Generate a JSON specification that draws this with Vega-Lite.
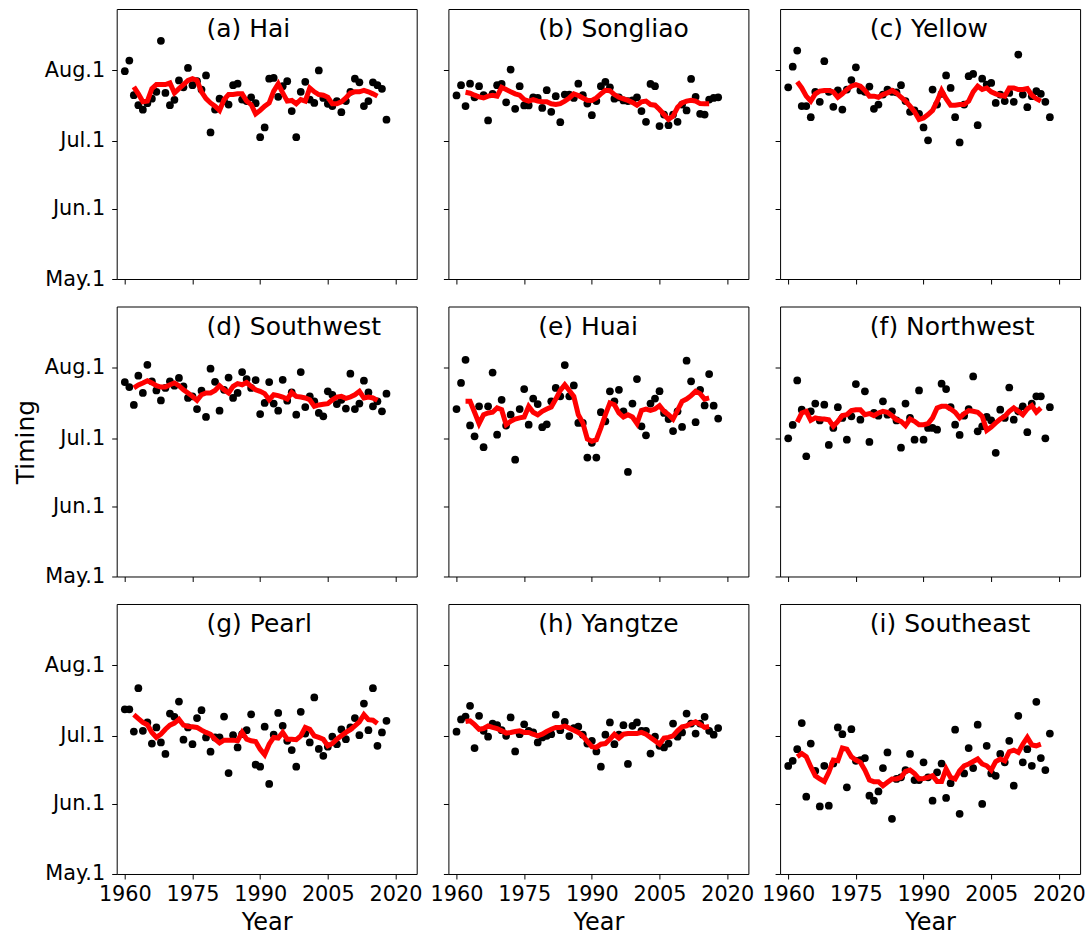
{
"$schema": "https://vega.github.io/schema/vega-lite/v6.json",
"background": "white",
"padding": {"left": 12.7, "top": 8, "right": 5, "bottom": 5},
"config": {
 "view": {"stroke": "black", "strokeWidth": 1},
 "axis": {"domain": false, "grid": false, "ticks": true, "tickColor": "black", "tickSize": 5, "tickWidth": 1, "labelFont": "DejaVu Sans", "labelFontSize": 20.8, "labelColor": "black", "labelFlush": false, "titleFont": "DejaVu Sans", "titleFontWeight": "normal", "titleColor": "black"},
 "axisX": {"labelPadding": 6, "titleFontSize": 24, "titlePadding": 6},
 "axisY": {"labelPadding": 7, "titleFontSize": 25, "titlePadding": 6}
},
"datasets": {"d": [
{"b":"a","yr":1960,"t":212.6},{"b":"a","yr":1961,"t":217.3},{"b":"a","yr":1962,"t":202.0,"m":205.7},{"b":"a","yr":1963,"t":197.6,"m":202.6},{"b":"a","yr":1964,"t":195.6,"m":199.1},{"b":"a","yr":1965,"t":198.5,"m":199.4},{"b":"a","yr":1966,"t":200.5,"m":204.9},{"b":"a","yr":1967,"t":203.5,"m":206.7},{"b":"a","yr":1968,"t":226.0,"m":206.7},{"b":"a","yr":1969,"t":203.0,"m":206.7},
{"b":"a","yr":1970,"t":197.6,"m":207.4},{"b":"a","yr":1971,"t":200.0,"m":203.0},{"b":"a","yr":1972,"t":208.5,"m":204.9},{"b":"a","yr":1973,"t":205.5,"m":206.7},{"b":"a","yr":1974,"t":214.0,"m":208.5},{"b":"a","yr":1975,"t":206.4,"m":209.3},{"b":"a","yr":1976,"t":208.2,"m":208.5},{"b":"a","yr":1977,"t":204.5,"m":203.5},{"b":"a","yr":1978,"t":210.7,"m":200.5},{"b":"a","yr":1979,"t":185.6,"m":198.6},
{"b":"a","yr":1980,"t":195.7,"m":197.2},{"b":"a","yr":1981,"t":200.5,"m":195.3},{"b":"a","yr":1982,"t":199.4,"m":200.1},{"b":"a","yr":1983,"t":197.9,"m":202.3},{"b":"a","yr":1984,"t":206.4,"m":202.3},{"b":"a","yr":1985,"t":207.1,"m":202.6},{"b":"a","yr":1986,"t":200.1,"m":202.6},{"b":"a","yr":1987,"t":199.4,"m":199.4},{"b":"a","yr":1988,"t":201.1,"m":197.9},{"b":"a","yr":1989,"t":198.5,"m":193.8},
{"b":"a","yr":1990,"t":183.5,"m":195.3},{"b":"a","yr":1991,"t":187.8,"m":197.2},{"b":"a","yr":1992,"t":209.3,"m":198.6},{"b":"a","yr":1993,"t":209.6,"m":203.8},{"b":"a","yr":1994,"t":201.3,"m":207.0},{"b":"a","yr":1995,"t":206.0,"m":203.0},{"b":"a","yr":1996,"t":208.2,"m":199.4},{"b":"a","yr":1997,"t":195.0,"m":199.7},{"b":"a","yr":1998,"t":183.5,"m":198.2},{"b":"a","yr":1999,"t":203.5,"m":200.1},
{"b":"a","yr":2000,"t":207.9,"m":199.4},{"b":"a","yr":2001,"t":200.1,"m":205.2},{"b":"a","yr":2002,"t":198.6,"m":203.5},{"b":"a","yr":2003,"t":212.9,"m":202.3},{"b":"a","yr":2004,"t":200.8,"m":202.0},{"b":"a","yr":2005,"t":198.2,"m":201.1},{"b":"a","yr":2006,"t":197.2,"m":198.2},{"b":"a","yr":2007,"t":199.4,"m":198.2},{"b":"a","yr":2008,"t":194.5,"m":199.1},{"b":"a","yr":2009,"t":199.4,"m":200.8},
{"b":"a","yr":2010,"t":203.5,"m":203.0},{"b":"a","yr":2011,"t":209.3,"m":203.5},{"b":"a","yr":2012,"t":207.7,"m":203.5},{"b":"a","yr":2013,"t":197.2,"m":204.1},{"b":"a","yr":2014,"t":199.4,"m":203.5},{"b":"a","yr":2015,"t":207.7,"m":202.6},{"b":"a","yr":2016,"t":206.4,"m":201.6},{"b":"a","yr":2017,"t":204.8},{"b":"a","yr":2018,"t":191.2},

{"b":"b","yr":1960,"t":201.9},{"b":"b","yr":1961,"t":206.4},{"b":"b","yr":1962,"t":197.2,"m":203.3},{"b":"b","yr":1963,"t":207.1,"m":202.9},{"b":"b","yr":1964,"t":201.1,"m":202.0},{"b":"b","yr":1965,"t":206.0,"m":201.3},{"b":"b","yr":1966,"t":202.0,"m":200.8},{"b":"b","yr":1967,"t":190.9,"m":201.6},{"b":"b","yr":1968,"t":202.6,"m":202.0},{"b":"b","yr":1969,"t":206.4,"m":201.6},
{"b":"b","yr":1970,"t":207.0,"m":205.5},{"b":"b","yr":1971,"t":198.9,"m":204.5},{"b":"b","yr":1972,"t":213.3,"m":203.5},{"b":"b","yr":1973,"t":196.0,"m":202.6},{"b":"b","yr":1974,"t":206.0,"m":202.0},{"b":"b","yr":1975,"t":197.5,"m":200.1},{"b":"b","yr":1976,"t":197.5,"m":199.4},{"b":"b","yr":1977,"t":201.1,"m":200.1},{"b":"b","yr":1978,"t":200.8,"m":199.4},{"b":"b","yr":1979,"t":196.4,"m":199.1},
{"b":"b","yr":1980,"t":204.2,"m":199.1},{"b":"b","yr":1981,"t":194.7,"m":198.2},{"b":"b","yr":1982,"t":201.6,"m":197.9},{"b":"b","yr":1983,"t":190.1,"m":198.3},{"b":"b","yr":1984,"t":202.3,"m":199.4},{"b":"b","yr":1985,"t":202.3,"m":200.8},{"b":"b","yr":1986,"t":200.8,"m":202.6},{"b":"b","yr":1987,"t":207.1,"m":201.9},{"b":"b","yr":1988,"t":202.0,"m":200.8},{"b":"b","yr":1989,"t":198.3,"m":199.8},
{"b":"b","yr":1990,"t":193.2,"m":199.7},{"b":"b","yr":1991,"t":199.4,"m":200.8},{"b":"b","yr":1992,"t":206.0,"m":202.6},{"b":"b","yr":1993,"t":207.9,"m":204.2},{"b":"b","yr":1994,"t":205.5,"m":204.0},{"b":"b","yr":1995,"t":200.5,"m":202.3},{"b":"b","yr":1996,"t":201.1,"m":201.1},{"b":"b","yr":1997,"t":199.7,"m":200.4},{"b":"b","yr":1998,"t":199.4,"m":199.7},{"b":"b","yr":1999,"t":199.7,"m":198.8},
{"b":"b","yr":2000,"t":201.1,"m":197.6},{"b":"b","yr":2001,"t":195.0,"m":199.1},{"b":"b","yr":2002,"t":190.3,"m":199.4},{"b":"b","yr":2003,"t":207.0,"m":197.9},{"b":"b","yr":2004,"t":206.0,"m":197.6},{"b":"b","yr":2005,"t":188.4,"m":195.7},{"b":"b","yr":2006,"t":193.5,"m":193.5},{"b":"b","yr":2007,"t":188.8,"m":191.3},{"b":"b","yr":2008,"t":193.5,"m":192.8},{"b":"b","yr":2009,"t":190.3,"m":196.7},
{"b":"b","yr":2010,"t":197.9,"m":198.6},{"b":"b","yr":2011,"t":195.3,"m":199.4},{"b":"b","yr":2012,"t":209.2,"m":199.8},{"b":"b","yr":2013,"t":201.3,"m":199.4},{"b":"b","yr":2014,"t":193.8,"m":198.3},{"b":"b","yr":2015,"t":193.5,"m":198.2},{"b":"b","yr":2016,"t":200.1,"m":198.2},{"b":"b","yr":2017,"t":200.8},{"b":"b","yr":2018,"t":201.1},

{"b":"c","yr":1960,"t":205.5},{"b":"c","yr":1961,"t":214.6},{"b":"c","yr":1962,"t":221.7,"m":207.9},{"b":"c","yr":1963,"t":197.2,"m":205.2},{"b":"c","yr":1964,"t":197.2,"m":201.6},{"b":"c","yr":1965,"t":192.3,"m":199.4},{"b":"c","yr":1966,"t":203.5,"m":202.6},{"b":"c","yr":1967,"t":199.1,"m":203.8},{"b":"c","yr":1968,"t":217.0,"m":204.1},{"b":"c","yr":1969,"t":203.5,"m":204.1},
{"b":"c","yr":1970,"t":196.9,"m":203.5},{"b":"c","yr":1971,"t":204.1,"m":201.1},{"b":"c","yr":1972,"t":195.7,"m":202.6},{"b":"c","yr":1973,"t":204.5,"m":204.5},{"b":"c","yr":1974,"t":208.7,"m":206.0},{"b":"c","yr":1975,"t":214.3,"m":206.7},{"b":"c","yr":1976,"t":204.1,"m":206.0},{"b":"c","yr":1977,"t":203.5,"m":204.1},{"b":"c","yr":1978,"t":205.8,"m":201.6},{"b":"c","yr":1979,"t":196.0,"m":201.6},
{"b":"c","yr":1980,"t":197.9,"m":201.1},{"b":"c","yr":1981,"t":202.3,"m":202.3},{"b":"c","yr":1982,"t":204.5,"m":203.0},{"b":"c","yr":1983,"t":203.5,"m":204.1},{"b":"c","yr":1984,"t":203.3,"m":203.0},{"b":"c","yr":1985,"t":206.4,"m":201.1},{"b":"c","yr":1986,"t":199.4,"m":199.4},{"b":"c","yr":1987,"t":194.7,"m":197.2},{"b":"c","yr":1988,"t":195.3,"m":194.7},{"b":"c","yr":1989,"t":193.8,"m":191.3},
{"b":"c","yr":1990,"t":187.8,"m":192.0},{"b":"c","yr":1991,"t":182.1,"m":193.5},{"b":"c","yr":1992,"t":204.5,"m":195.3},{"b":"c","yr":1993,"t":197.9,"m":199.4},{"b":"c","yr":1994,"t":202.6,"m":204.1},{"b":"c","yr":1995,"t":210.7,"m":200.5},{"b":"c","yr":1996,"t":205.2,"m":197.6},{"b":"c","yr":1997,"t":192.3,"m":197.6},{"b":"c","yr":1998,"t":181.2,"m":197.9},{"b":"c","yr":1999,"t":197.9,"m":197.9},
{"b":"c","yr":2000,"t":210.4,"m":199.4},{"b":"c","yr":2001,"t":211.4,"m":203.5},{"b":"c","yr":2002,"t":188.8,"m":206.0},{"b":"c","yr":2003,"t":209.3,"m":204.5},{"b":"c","yr":2004,"t":206.7,"m":205.2},{"b":"c","yr":2005,"t":207.4,"m":203.5},{"b":"c","yr":2006,"t":198.6,"m":202.6},{"b":"c","yr":2007,"t":202.3,"m":202.0},{"b":"c","yr":2008,"t":199.4,"m":201.6},{"b":"c","yr":2009,"t":203.0,"m":205.2},
{"b":"c","yr":2010,"t":199.1,"m":205.2},{"b":"c","yr":2011,"t":219.9,"m":204.5},{"b":"c","yr":2012,"t":202.3,"m":204.5},{"b":"c","yr":2013,"t":196.7,"m":204.9},{"b":"c","yr":2014,"t":201.6,"m":202.0},{"b":"c","yr":2015,"t":203.8,"m":200.5},{"b":"c","yr":2016,"t":202.6,"m":199.4},{"b":"c","yr":2017,"t":199.1},{"b":"c","yr":2018,"t":192.3},

{"b":"d","yr":1960,"t":206.7},{"b":"d","yr":1961,"t":204.5},{"b":"d","yr":1962,"t":196.6,"m":204.1},{"b":"d","yr":1963,"t":209.5,"m":205.4},{"b":"d","yr":1964,"t":201.9,"m":206.3},{"b":"d","yr":1965,"t":214.3,"m":207.3},{"b":"d","yr":1966,"t":207.0,"m":206.3},{"b":"d","yr":1967,"t":203.0,"m":205.1},{"b":"d","yr":1968,"t":198.6,"m":204.5},{"b":"d","yr":1969,"t":204.1,"m":204.5},
{"b":"d","yr":1970,"t":207.0,"m":205.5},{"b":"d","yr":1971,"t":205.1,"m":206.3},{"b":"d","yr":1972,"t":208.5,"m":205.1},{"b":"d","yr":1973,"t":204.8,"m":203.3},{"b":"d","yr":1974,"t":199.7,"m":201.9},{"b":"d","yr":1975,"t":200.4,"m":200.4},{"b":"d","yr":1976,"t":194.8,"m":198.6},{"b":"d","yr":1977,"t":202.9,"m":201.1},{"b":"d","yr":1978,"t":191.3,"m":201.9},{"b":"d","yr":1979,"t":212.6,"m":201.9},
{"b":"d","yr":1980,"t":206.8,"m":203.0},{"b":"d","yr":1981,"t":194.1,"m":205.1},{"b":"d","yr":1982,"t":203.3,"m":203.3},{"b":"d","yr":1983,"t":208.7,"m":201.9},{"b":"d","yr":1984,"t":199.7,"m":204.8},{"b":"d","yr":1985,"t":201.9,"m":206.0},{"b":"d","yr":1986,"t":211.1,"m":205.5},{"b":"d","yr":1987,"t":208.0,"m":206.5},{"b":"d","yr":1988,"t":204.1,"m":204.8},{"b":"d","yr":1989,"t":207.6,"m":203.3},
{"b":"d","yr":1990,"t":192.6,"m":202.6},{"b":"d","yr":1991,"t":197.5,"m":201.6},{"b":"d","yr":1992,"t":206.7,"m":198.9},{"b":"d","yr":1993,"t":197.2,"m":201.1},{"b":"d","yr":1994,"t":194.1,"m":200.7},{"b":"d","yr":1995,"t":207.7,"m":200.1},{"b":"d","yr":1996,"t":198.5,"m":199.2},{"b":"d","yr":1997,"t":202.1,"m":202.1},{"b":"d","yr":1998,"t":192.3,"m":200.4},{"b":"d","yr":1999,"t":211.1,"m":200.1},
{"b":"d","yr":2000,"t":195.7,"m":199.7},{"b":"d","yr":2001,"t":200.4,"m":198.9},{"b":"d","yr":2002,"t":198.2,"m":196.0},{"b":"d","yr":2003,"t":193.1,"m":196.6},{"b":"d","yr":2004,"t":191.6,"m":196.9},{"b":"d","yr":2005,"t":202.6,"m":197.2},{"b":"d","yr":2006,"t":201.1,"m":198.9},{"b":"d","yr":2007,"t":197.0,"m":200.1},{"b":"d","yr":2008,"t":198.9,"m":200.4},{"b":"d","yr":2009,"t":195.0,"m":199.5},
{"b":"d","yr":2010,"t":210.4,"m":200.1},{"b":"d","yr":2011,"t":194.8,"m":201.1},{"b":"d","yr":2012,"t":197.2,"m":202.6},{"b":"d","yr":2013,"t":207.3,"m":199.7},{"b":"d","yr":2014,"t":202.1,"m":200.1},{"b":"d","yr":2015,"t":196.0,"m":199.7},{"b":"d","yr":2016,"t":198.2,"m":198.6},{"b":"d","yr":2017,"t":193.8},{"b":"d","yr":2018,"t":201.6},

{"b":"e","yr":1960,"t":194.8},{"b":"e","yr":1961,"t":206.3},{"b":"e","yr":1962,"t":216.5,"m":198.2},{"b":"e","yr":1963,"t":187.6,"m":198.2},{"b":"e","yr":1964,"t":182.8,"m":193.4},{"b":"e","yr":1965,"t":196.0,"m":188.4},{"b":"e","yr":1966,"t":178.0,"m":192.3},{"b":"e","yr":1967,"t":196.0,"m":193.1},{"b":"e","yr":1968,"t":210.9,"m":193.4},{"b":"e","yr":1969,"t":183.5,"m":195.3},
{"b":"e","yr":1970,"t":198.9,"m":194.5},{"b":"e","yr":1971,"t":187.5,"m":187.9},{"b":"e","yr":1972,"t":192.3,"m":189.4},{"b":"e","yr":1973,"t":172.5,"m":190.4},{"b":"e","yr":1974,"t":194.8,"m":190.9},{"b":"e","yr":1975,"t":203.6,"m":191.3},{"b":"e","yr":1976,"t":187.9,"m":196.0},{"b":"e","yr":1977,"t":199.4,"m":193.4},{"b":"e","yr":1978,"t":197.0,"m":192.3},{"b":"e","yr":1979,"t":186.8,"m":193.8},
{"b":"e","yr":1980,"t":188.1,"m":194.8},{"b":"e","yr":1981,"t":198.2,"m":195.7},{"b":"e","yr":1982,"t":204.1,"m":199.2},{"b":"e","yr":1983,"t":200.4,"m":203.0},{"b":"e","yr":1984,"t":214.2,"m":205.5},{"b":"e","yr":1985,"t":200.4,"m":203.0},{"b":"e","yr":1986,"t":205.2,"m":200.4},{"b":"e","yr":1987,"t":188.7,"m":192.3},{"b":"e","yr":1988,"t":188.7,"m":188.7},{"b":"e","yr":1989,"t":173.4,"m":181.6},
{"b":"e","yr":1990,"t":179.9,"m":180.6},{"b":"e","yr":1991,"t":173.4,"m":181.3},{"b":"e","yr":1992,"t":193.4,"m":186.5},{"b":"e","yr":1993,"t":189.4,"m":192.3},{"b":"e","yr":1994,"t":202.6,"m":197.5},{"b":"e","yr":1995,"t":198.2,"m":196.7},{"b":"e","yr":1996,"t":203.3,"m":193.1},{"b":"e","yr":1997,"t":193.8,"m":191.3},{"b":"e","yr":1998,"t":167.1,"m":192.3},{"b":"e","yr":1999,"t":197.2,"m":191.3},
{"b":"e","yr":2000,"t":208.0,"m":188.4},{"b":"e","yr":2001,"t":187.2,"m":194.2},{"b":"e","yr":2002,"t":183.2,"m":194.8},{"b":"e","yr":2003,"t":197.2,"m":194.2},{"b":"e","yr":2004,"t":199.4,"m":194.8},{"b":"e","yr":2005,"t":202.7,"m":196.3},{"b":"e","yr":2006,"t":193.1,"m":193.8},{"b":"e","yr":2007,"t":190.4,"m":192.3},{"b":"e","yr":2008,"t":185.1,"m":190.4},{"b":"e","yr":2009,"t":193.8,"m":194.2},
{"b":"e","yr":2010,"t":186.9,"m":198.2},{"b":"e","yr":2011,"t":216.1,"m":199.2},{"b":"e","yr":2012,"t":207.0,"m":200.7},{"b":"e","yr":2013,"t":189.0,"m":202.6},{"b":"e","yr":2014,"t":203.3,"m":201.6},{"b":"e","yr":2015,"t":196.4,"m":199.2},{"b":"e","yr":2016,"t":210.2,"m":199.7},{"b":"e","yr":2017,"t":196.3},{"b":"e","yr":2018,"t":190.6},

{"b":"f","yr":1960,"t":181.9},{"b":"f","yr":1961,"t":187.8},{"b":"f","yr":1962,"t":207.4,"m":189.0},{"b":"f","yr":1963,"t":194.5,"m":193.1},{"b":"f","yr":1964,"t":174.0,"m":193.8},{"b":"f","yr":1965,"t":193.8,"m":189.8},{"b":"f","yr":1966,"t":197.2,"m":190.9},{"b":"f","yr":1967,"t":189.8,"m":190.4},{"b":"f","yr":1968,"t":196.7,"m":190.4},{"b":"f","yr":1969,"t":179.0,"m":190.1},
{"b":"f","yr":1970,"t":186.5,"m":187.2},{"b":"f","yr":1971,"t":195.6,"m":189.4},{"b":"f","yr":1972,"t":190.9,"m":191.9},{"b":"f","yr":1973,"t":181.3,"m":192.3},{"b":"f","yr":1974,"t":191.6,"m":194.1},{"b":"f","yr":1975,"t":205.8,"m":194.5},{"b":"f","yr":1976,"t":190.1,"m":194.5},{"b":"f","yr":1977,"t":202.6,"m":192.3},{"b":"f","yr":1978,"t":180.3,"m":192.8},{"b":"f","yr":1979,"t":193.1,"m":191.9},
{"b":"f","yr":1980,"t":191.9,"m":193.1},{"b":"f","yr":1981,"t":198.2,"m":193.8},{"b":"f","yr":1982,"t":192.3,"m":193.4},{"b":"f","yr":1983,"t":193.8,"m":191.9},{"b":"f","yr":1984,"t":189.8,"m":190.1},{"b":"f","yr":1985,"t":177.8,"m":189.4},{"b":"f","yr":1986,"t":197.2,"m":187.5},{"b":"f","yr":1987,"t":190.9,"m":190.4},{"b":"f","yr":1988,"t":181.3,"m":189.4},{"b":"f","yr":1989,"t":203.0,"m":187.9},
{"b":"f","yr":1990,"t":181.3,"m":187.9},{"b":"f","yr":1991,"t":186.5,"m":188.4},{"b":"f","yr":1992,"t":186.5,"m":190.9},{"b":"f","yr":1993,"t":185.7,"m":195.3},{"b":"f","yr":1994,"t":206.0,"m":196.0},{"b":"f","yr":1995,"t":203.6,"m":196.0},{"b":"f","yr":1996,"t":195.7,"m":194.8},{"b":"f","yr":1997,"t":187.9,"m":193.4},{"b":"f","yr":1998,"t":183.4,"m":190.9},{"b":"f","yr":1999,"t":191.9,"m":192.8},
{"b":"f","yr":2000,"t":194.8,"m":194.1},{"b":"f","yr":2001,"t":209.2,"m":193.8},{"b":"f","yr":2002,"t":185.0,"m":193.4},{"b":"f","yr":2003,"t":187.2,"m":191.6},{"b":"f","yr":2004,"t":191.3,"m":185.4},{"b":"f","yr":2005,"t":189.8,"m":186.9},{"b":"f","yr":2006,"t":175.5,"m":188.7},{"b":"f","yr":2007,"t":194.5,"m":190.4},{"b":"f","yr":2008,"t":190.9,"m":191.6},{"b":"f","yr":2009,"t":204.3,"m":193.8},
{"b":"f","yr":2010,"t":190.1,"m":195.3},{"b":"f","yr":2011,"t":193.8,"m":193.8},{"b":"f","yr":2012,"t":196.0,"m":192.3},{"b":"f","yr":2013,"t":184.6,"m":194.8},{"b":"f","yr":2014,"t":197.2,"m":196.3},{"b":"f","yr":2015,"t":200.4,"m":193.4},{"b":"f","yr":2016,"t":200.4,"m":195.3},{"b":"f","yr":2017,"t":181.9},{"b":"f","yr":2018,"t":195.6},

{"b":"g","yr":1960,"t":193.6},{"b":"g","yr":1961,"t":193.6},{"b":"g","yr":1962,"t":183.8,"m":191.2},{"b":"g","yr":1963,"t":202.9,"m":189.5},{"b":"g","yr":1964,"t":184.1,"m":187.8},{"b":"g","yr":1965,"t":187.8,"m":186.8},{"b":"g","yr":1966,"t":178.5,"m":183.4},{"b":"g","yr":1967,"t":185.6,"m":181.2},{"b":"g","yr":1968,"t":179.0,"m":182.6},{"b":"g","yr":1969,"t":173.9,"m":184.8},
{"b":"g","yr":1970,"t":191.7,"m":186.6},{"b":"g","yr":1971,"t":190.3,"m":187.5},{"b":"g","yr":1972,"t":197.0,"m":189.2},{"b":"g","yr":1973,"t":180.2,"m":186.6},{"b":"g","yr":1974,"t":185.6,"m":186.0},{"b":"g","yr":1975,"t":178.2,"m":185.9},{"b":"g","yr":1976,"t":189.7,"m":185.6},{"b":"g","yr":1977,"t":193.2,"m":184.4},{"b":"g","yr":1978,"t":181.2,"m":183.4},{"b":"g","yr":1979,"t":174.9,"m":182.6},
{"b":"g","yr":1980,"t":181.2,"m":180.4},{"b":"g","yr":1981,"t":181.2,"m":178.8},{"b":"g","yr":1982,"t":190.4,"m":180.0},{"b":"g","yr":1983,"t":165.5,"m":180.0},{"b":"g","yr":1984,"t":182.2,"m":180.0},{"b":"g","yr":1985,"t":176.8,"m":179.7},{"b":"g","yr":1986,"t":182.6,"m":183.4},{"b":"g","yr":1987,"t":184.4,"m":180.4},{"b":"g","yr":1988,"t":191.4,"m":179.7},{"b":"g","yr":1989,"t":169.2,"m":179.4},
{"b":"g","yr":1990,"t":168.3,"m":176.0},{"b":"g","yr":1991,"t":185.9,"m":173.6},{"b":"g","yr":1992,"t":160.7,"m":178.2},{"b":"g","yr":1993,"t":182.4,"m":181.2},{"b":"g","yr":1994,"t":192.0,"m":180.9},{"b":"g","yr":1995,"t":186.3,"m":183.4},{"b":"g","yr":1996,"t":179.7,"m":180.4},{"b":"g","yr":1997,"t":175.6,"m":180.4},{"b":"g","yr":1998,"t":168.3,"m":180.2},{"b":"g","yr":1999,"t":192.5,"m":181.9},
{"b":"g","yr":2000,"t":182.9,"m":185.6},{"b":"g","yr":2001,"t":179.0,"m":184.8},{"b":"g","yr":2002,"t":198.8,"m":181.9},{"b":"g","yr":2003,"t":176.1,"m":181.2},{"b":"g","yr":2004,"t":173.1,"m":180.4},{"b":"g","yr":2005,"t":177.1,"m":177.5},{"b":"g","yr":2006,"t":181.5,"m":178.5},{"b":"g","yr":2007,"t":178.2,"m":180.4},{"b":"g","yr":2008,"t":184.7,"m":181.9},{"b":"g","yr":2009,"t":180.4,"m":183.4},
{"b":"g","yr":2010,"t":185.6,"m":184.6},{"b":"g","yr":2011,"t":189.7,"m":186.3},{"b":"g","yr":2012,"t":182.2,"m":188.1},{"b":"g","yr":2013,"t":196.1,"m":191.2},{"b":"g","yr":2014,"t":184.4,"m":189.0},{"b":"g","yr":2015,"t":202.9,"m":188.8},{"b":"g","yr":2016,"t":177.5,"m":187.3},{"b":"g","yr":2017,"t":183.4},{"b":"g","yr":2018,"t":188.5},

{"b":"h","yr":1960,"t":183.7},{"b":"h","yr":1961,"t":189.1},{"b":"h","yr":1962,"t":190.4,"m":188.2},{"b":"h","yr":1963,"t":195.1,"m":188.5},{"b":"h","yr":1964,"t":176.5,"m":186.8},{"b":"h","yr":1965,"t":190.7,"m":184.8},{"b":"h","yr":1966,"t":184.1,"m":185.1},{"b":"h","yr":1967,"t":181.5,"m":186.2},{"b":"h","yr":1968,"t":187.3,"m":185.6},{"b":"h","yr":1969,"t":186.6,"m":185.1},
{"b":"h","yr":1970,"t":184.4,"m":184.1},{"b":"h","yr":1971,"t":181.9,"m":183.1},{"b":"h","yr":1972,"t":190.0,"m":183.4},{"b":"h","yr":1973,"t":175.0,"m":183.8},{"b":"h","yr":1974,"t":182.6,"m":184.1},{"b":"h","yr":1975,"t":187.0,"m":183.4},{"b":"h","yr":1976,"t":184.1,"m":183.4},{"b":"h","yr":1977,"t":183.4,"m":182.6},{"b":"h","yr":1978,"t":179.0,"m":181.9},{"b":"h","yr":1979,"t":181.2,"m":182.6},
{"b":"h","yr":1980,"t":181.9,"m":183.8},{"b":"h","yr":1981,"t":182.6,"m":184.8},{"b":"h","yr":1982,"t":191.2,"m":185.6},{"b":"h","yr":1983,"t":184.4,"m":185.6},{"b":"h","yr":1984,"t":188.1,"m":186.2},{"b":"h","yr":1985,"t":181.8,"m":185.3},{"b":"h","yr":1986,"t":185.3,"m":184.4},{"b":"h","yr":1987,"t":185.9,"m":183.4},{"b":"h","yr":1988,"t":182.4,"m":181.9},{"b":"h","yr":1989,"t":178.5,"m":179.4},
{"b":"h","yr":1990,"t":179.7,"m":177.1},{"b":"h","yr":1991,"t":175.0,"m":176.8},{"b":"h","yr":1992,"t":168.3,"m":178.2},{"b":"h","yr":1993,"t":182.4,"m":178.5},{"b":"h","yr":1994,"t":187.8,"m":180.4},{"b":"h","yr":1995,"t":178.2,"m":182.6},{"b":"h","yr":1996,"t":182.4,"m":180.9},{"b":"h","yr":1997,"t":186.6,"m":182.6},{"b":"h","yr":1998,"t":169.5,"m":182.9},{"b":"h","yr":1999,"t":186.3,"m":182.9},
{"b":"h","yr":2000,"t":187.8,"m":182.9},{"b":"h","yr":2001,"t":184.1,"m":183.4},{"b":"h","yr":2002,"t":184.1,"m":182.6},{"b":"h","yr":2003,"t":174.1,"m":181.2},{"b":"h","yr":2004,"t":181.5,"m":179.7},{"b":"h","yr":2005,"t":177.5,"m":178.2},{"b":"h","yr":2006,"t":176.8,"m":180.9},{"b":"h","yr":2007,"t":178.5,"m":181.2},{"b":"h","yr":2008,"t":187.3,"m":181.9},{"b":"h","yr":2009,"t":181.5,"m":184.1},
{"b":"h","yr":2010,"t":183.4,"m":185.9},{"b":"h","yr":2011,"t":191.7,"m":186.3},{"b":"h","yr":2012,"t":187.3,"m":187.3},{"b":"h","yr":2013,"t":182.9,"m":188.1},{"b":"h","yr":2014,"t":187.3,"m":187.0},{"b":"h","yr":2015,"t":190.3,"m":185.6},{"b":"h","yr":2016,"t":184.1,"m":186.0},{"b":"h","yr":2017,"t":182.4},{"b":"h","yr":2018,"t":185.3},

{"b":"i","yr":1960,"t":168.6},{"b":"i","yr":1961,"t":170.9},{"b":"i","yr":1962,"t":176.0,"m":172.7},{"b":"i","yr":1963,"t":187.5,"m":174.1},{"b":"i","yr":1964,"t":155.1,"m":172.7},{"b":"i","yr":1965,"t":178.5,"m":168.3},{"b":"i","yr":1966,"t":166.5,"m":164.3},{"b":"i","yr":1967,"t":150.8,"m":162.9},{"b":"i","yr":1968,"t":168.7,"m":161.8},{"b":"i","yr":1969,"t":151.1,"m":165.8},
{"b":"i","yr":1970,"t":169.7,"m":171.2},{"b":"i","yr":1971,"t":185.6,"m":170.9},{"b":"i","yr":1972,"t":182.6,"m":176.5},{"b":"i","yr":1973,"t":159.2,"m":176.0},{"b":"i","yr":1974,"t":184.8,"m":172.7},{"b":"i","yr":1975,"t":170.9,"m":171.2},{"b":"i","yr":1976,"t":171.2,"m":170.2},{"b":"i","yr":1977,"t":172.1,"m":166.8},{"b":"i","yr":1978,"t":155.5,"m":162.4},{"b":"i","yr":1979,"t":153.3,"m":161.7},
{"b":"i","yr":1980,"t":157.4,"m":161.7},{"b":"i","yr":1981,"t":167.7,"m":159.9},{"b":"i","yr":1982,"t":174.6,"m":161.4},{"b":"i","yr":1983,"t":145.3,"m":162.9},{"b":"i","yr":1984,"t":162.9,"m":162.9},{"b":"i","yr":1985,"t":163.6,"m":163.6},{"b":"i","yr":1986,"t":166.8,"m":166.2},{"b":"i","yr":1987,"t":173.9,"m":166.8},{"b":"i","yr":1988,"t":162.4,"m":165.3},{"b":"i","yr":1989,"t":162.4,"m":162.9},
{"b":"i","yr":1990,"t":170.2,"m":163.1},{"b":"i","yr":1991,"t":163.6,"m":163.6},{"b":"i","yr":1992,"t":153.3,"m":164.3},{"b":"i","yr":1993,"t":165.8,"m":161.8},{"b":"i","yr":1994,"t":169.7,"m":161.8},{"b":"i","yr":1995,"t":154.5,"m":167.3},{"b":"i","yr":1996,"t":161.0,"m":163.6},{"b":"i","yr":1997,"t":184.6,"m":162.9},{"b":"i","yr":1998,"t":147.5,"m":166.5},{"b":"i","yr":1999,"t":165.3,"m":168.7},
{"b":"i","yr":2000,"t":176.5,"m":169.5},{"b":"i","yr":2001,"t":167.7,"m":170.6},{"b":"i","yr":2002,"t":186.8,"m":171.7},{"b":"i","yr":2003,"t":151.9,"m":169.5},{"b":"i","yr":2004,"t":177.5,"m":168.7},{"b":"i","yr":2005,"t":165.3,"m":166.8},{"b":"i","yr":2006,"t":164.3,"m":170.6},{"b":"i","yr":2007,"t":173.9,"m":171.7},{"b":"i","yr":2008,"t":170.2,"m":170.9},{"b":"i","yr":2009,"t":179.7,"m":174.9},
{"b":"i","yr":2010,"t":159.9,"m":175.6},{"b":"i","yr":2011,"t":190.7,"m":174.6},{"b":"i","yr":2012,"t":170.2,"m":178.2},{"b":"i","yr":2013,"t":176.0,"m":181.2},{"b":"i","yr":2014,"t":168.7,"m":177.9},{"b":"i","yr":2015,"t":196.9,"m":177.5},{"b":"i","yr":2016,"t":172.1,"m":178.2},{"b":"i","yr":2017,"t":166.8},{"b":"i","yr":2018,"t":182.9}
]},
"data": {"name": "d"},
"columns": 3,
"bounds": "flush",
"spacing": {"row": 27.5, "column": 31.7},
"concat": [
{"width":300,"height":270,"layer":[
 {"transform":[{"filter":"datum.b=='a'"}],"mark":{"type":"circle","color":"black","size":60,"opacity":1},"encoding":{"x":{"field":"yr","type":"quantitative","scale":{"domain":[1958.2,2024.7],"nice":false,"zero":false},"axis":{"values":[1960,1975,1990,2005,2020],"format":"d","labels":false,"title":null}},"y":{"field":"t","type":"quantitative","scale":{"domain":[121,240],"nice":false,"zero":false},"axis":{"values":[121,152,182,213],"labelExpr":"datum.value==121?'May.1':datum.value==152?'Jun.1':datum.value==182?'Jul.1':'Aug.1'","title":null}}}},
 {"transform":[{"filter":"datum.b=='a' && isValid(datum.m)"}],"mark":{"type":"line","color":"red","strokeWidth":5},"encoding":{"x":{"field":"yr","type":"quantitative","scale":{"domain":[1958.2,2024.7],"nice":false,"zero":false},"axis":{"values":[1960,1975,1990,2005,2020],"format":"d","labels":false,"title":null}},"y":{"field":"m","type":"quantitative","scale":{"domain":[121,240],"nice":false,"zero":false},"axis":{"values":[121,152,182,213],"labelExpr":"datum.value==121?'May.1':datum.value==152?'Jun.1':datum.value==182?'Jul.1':'Aug.1'","title":null}}}},
 {"data":{"values":[{"lab":"(a) Hai"}]},"mark":{"type":"text","align":"left","baseline":"alphabetic","fontSize":25,"font":"DejaVu Sans","color":"black"},"encoding":{"x":{"datum":1978.1},"y":{"datum":227.5},"text":{"field":"lab"}}}
]},
{"width":300,"height":270,"layer":[
 {"transform":[{"filter":"datum.b=='b'"}],"mark":{"type":"circle","color":"black","size":60,"opacity":1},"encoding":{"x":{"field":"yr","type":"quantitative","scale":{"domain":[1958.2,2024.7],"nice":false,"zero":false},"axis":{"values":[1960,1975,1990,2005,2020],"format":"d","labels":false,"title":null}},"y":{"field":"t","type":"quantitative","scale":{"domain":[121,240],"nice":false,"zero":false},"axis":{"values":[121,152,182,213],"labels":false,"title":null}}}},
 {"transform":[{"filter":"datum.b=='b' && isValid(datum.m)"}],"mark":{"type":"line","color":"red","strokeWidth":5},"encoding":{"x":{"field":"yr","type":"quantitative","scale":{"domain":[1958.2,2024.7],"nice":false,"zero":false},"axis":{"values":[1960,1975,1990,2005,2020],"format":"d","labels":false,"title":null}},"y":{"field":"m","type":"quantitative","scale":{"domain":[121,240],"nice":false,"zero":false},"axis":{"values":[121,152,182,213],"labels":false,"title":null}}}},
 {"data":{"values":[{"lab":"(b) Songliao"}]},"mark":{"type":"text","align":"left","baseline":"alphabetic","fontSize":25,"font":"DejaVu Sans","color":"black"},"encoding":{"x":{"datum":1978.1},"y":{"datum":227.5},"text":{"field":"lab"}}}
]},
{"width":300,"height":270,"layer":[
 {"transform":[{"filter":"datum.b=='c'"}],"mark":{"type":"circle","color":"black","size":60,"opacity":1},"encoding":{"x":{"field":"yr","type":"quantitative","scale":{"domain":[1958.2,2024.7],"nice":false,"zero":false},"axis":{"values":[1960,1975,1990,2005,2020],"format":"d","labels":false,"title":null}},"y":{"field":"t","type":"quantitative","scale":{"domain":[121,240],"nice":false,"zero":false},"axis":{"values":[121,152,182,213],"labels":false,"title":null}}}},
 {"transform":[{"filter":"datum.b=='c' && isValid(datum.m)"}],"mark":{"type":"line","color":"red","strokeWidth":5},"encoding":{"x":{"field":"yr","type":"quantitative","scale":{"domain":[1958.2,2024.7],"nice":false,"zero":false},"axis":{"values":[1960,1975,1990,2005,2020],"format":"d","labels":false,"title":null}},"y":{"field":"m","type":"quantitative","scale":{"domain":[121,240],"nice":false,"zero":false},"axis":{"values":[121,152,182,213],"labels":false,"title":null}}}},
 {"data":{"values":[{"lab":"(c) Yellow"}]},"mark":{"type":"text","align":"left","baseline":"alphabetic","fontSize":25,"font":"DejaVu Sans","color":"black"},"encoding":{"x":{"datum":1978.1},"y":{"datum":227.5},"text":{"field":"lab"}}}
]},
{"width":300,"height":270,"layer":[
 {"transform":[{"filter":"datum.b=='d'"}],"mark":{"type":"circle","color":"black","size":60,"opacity":1},"encoding":{"x":{"field":"yr","type":"quantitative","scale":{"domain":[1958.2,2024.7],"nice":false,"zero":false},"axis":{"values":[1960,1975,1990,2005,2020],"format":"d","labels":false,"title":null}},"y":{"field":"t","type":"quantitative","scale":{"domain":[121,240],"nice":false,"zero":false},"axis":{"values":[121,152,182,213],"labelExpr":"datum.value==121?'May.1':datum.value==152?'Jun.1':datum.value==182?'Jul.1':'Aug.1'","title":"Timing"}}}},
 {"transform":[{"filter":"datum.b=='d' && isValid(datum.m)"}],"mark":{"type":"line","color":"red","strokeWidth":5},"encoding":{"x":{"field":"yr","type":"quantitative","scale":{"domain":[1958.2,2024.7],"nice":false,"zero":false},"axis":{"values":[1960,1975,1990,2005,2020],"format":"d","labels":false,"title":null}},"y":{"field":"m","type":"quantitative","scale":{"domain":[121,240],"nice":false,"zero":false},"axis":{"values":[121,152,182,213],"labelExpr":"datum.value==121?'May.1':datum.value==152?'Jun.1':datum.value==182?'Jul.1':'Aug.1'","title":"Timing"}}}},
 {"data":{"values":[{"lab":"(d) Southwest"}]},"mark":{"type":"text","align":"left","baseline":"alphabetic","fontSize":25,"font":"DejaVu Sans","color":"black"},"encoding":{"x":{"datum":1978.1},"y":{"datum":227.5},"text":{"field":"lab"}}}
]},
{"width":300,"height":270,"layer":[
 {"transform":[{"filter":"datum.b=='e'"}],"mark":{"type":"circle","color":"black","size":60,"opacity":1},"encoding":{"x":{"field":"yr","type":"quantitative","scale":{"domain":[1958.2,2024.7],"nice":false,"zero":false},"axis":{"values":[1960,1975,1990,2005,2020],"format":"d","labels":false,"title":null}},"y":{"field":"t","type":"quantitative","scale":{"domain":[121,240],"nice":false,"zero":false},"axis":{"values":[121,152,182,213],"labels":false,"title":null}}}},
 {"transform":[{"filter":"datum.b=='e' && isValid(datum.m)"}],"mark":{"type":"line","color":"red","strokeWidth":5},"encoding":{"x":{"field":"yr","type":"quantitative","scale":{"domain":[1958.2,2024.7],"nice":false,"zero":false},"axis":{"values":[1960,1975,1990,2005,2020],"format":"d","labels":false,"title":null}},"y":{"field":"m","type":"quantitative","scale":{"domain":[121,240],"nice":false,"zero":false},"axis":{"values":[121,152,182,213],"labels":false,"title":null}}}},
 {"data":{"values":[{"lab":"(e) Huai"}]},"mark":{"type":"text","align":"left","baseline":"alphabetic","fontSize":25,"font":"DejaVu Sans","color":"black"},"encoding":{"x":{"datum":1978.1},"y":{"datum":227.5},"text":{"field":"lab"}}}
]},
{"width":300,"height":270,"layer":[
 {"transform":[{"filter":"datum.b=='f'"}],"mark":{"type":"circle","color":"black","size":60,"opacity":1},"encoding":{"x":{"field":"yr","type":"quantitative","scale":{"domain":[1958.2,2024.7],"nice":false,"zero":false},"axis":{"values":[1960,1975,1990,2005,2020],"format":"d","labels":false,"title":null}},"y":{"field":"t","type":"quantitative","scale":{"domain":[121,240],"nice":false,"zero":false},"axis":{"values":[121,152,182,213],"labels":false,"title":null}}}},
 {"transform":[{"filter":"datum.b=='f' && isValid(datum.m)"}],"mark":{"type":"line","color":"red","strokeWidth":5},"encoding":{"x":{"field":"yr","type":"quantitative","scale":{"domain":[1958.2,2024.7],"nice":false,"zero":false},"axis":{"values":[1960,1975,1990,2005,2020],"format":"d","labels":false,"title":null}},"y":{"field":"m","type":"quantitative","scale":{"domain":[121,240],"nice":false,"zero":false},"axis":{"values":[121,152,182,213],"labels":false,"title":null}}}},
 {"data":{"values":[{"lab":"(f) Northwest"}]},"mark":{"type":"text","align":"left","baseline":"alphabetic","fontSize":25,"font":"DejaVu Sans","color":"black"},"encoding":{"x":{"datum":1978.1},"y":{"datum":227.5},"text":{"field":"lab"}}}
]},
{"width":300,"height":270,"layer":[
 {"transform":[{"filter":"datum.b=='g'"}],"mark":{"type":"circle","color":"black","size":60,"opacity":1},"encoding":{"x":{"field":"yr","type":"quantitative","scale":{"domain":[1958.2,2024.7],"nice":false,"zero":false},"axis":{"values":[1960,1975,1990,2005,2020],"format":"d","title":"Year"}},"y":{"field":"t","type":"quantitative","scale":{"domain":[121,240],"nice":false,"zero":false},"axis":{"values":[121,152,182,213],"labelExpr":"datum.value==121?'May.1':datum.value==152?'Jun.1':datum.value==182?'Jul.1':'Aug.1'","title":null}}}},
 {"transform":[{"filter":"datum.b=='g' && isValid(datum.m)"}],"mark":{"type":"line","color":"red","strokeWidth":5},"encoding":{"x":{"field":"yr","type":"quantitative","scale":{"domain":[1958.2,2024.7],"nice":false,"zero":false},"axis":{"values":[1960,1975,1990,2005,2020],"format":"d","title":"Year"}},"y":{"field":"m","type":"quantitative","scale":{"domain":[121,240],"nice":false,"zero":false},"axis":{"values":[121,152,182,213],"labelExpr":"datum.value==121?'May.1':datum.value==152?'Jun.1':datum.value==182?'Jul.1':'Aug.1'","title":null}}}},
 {"data":{"values":[{"lab":"(g) Pearl"}]},"mark":{"type":"text","align":"left","baseline":"alphabetic","fontSize":25,"font":"DejaVu Sans","color":"black"},"encoding":{"x":{"datum":1978.1},"y":{"datum":227.5},"text":{"field":"lab"}}}
]},
{"width":300,"height":270,"layer":[
 {"transform":[{"filter":"datum.b=='h'"}],"mark":{"type":"circle","color":"black","size":60,"opacity":1},"encoding":{"x":{"field":"yr","type":"quantitative","scale":{"domain":[1958.2,2024.7],"nice":false,"zero":false},"axis":{"values":[1960,1975,1990,2005,2020],"format":"d","title":"Year"}},"y":{"field":"t","type":"quantitative","scale":{"domain":[121,240],"nice":false,"zero":false},"axis":{"values":[121,152,182,213],"labels":false,"title":null}}}},
 {"transform":[{"filter":"datum.b=='h' && isValid(datum.m)"}],"mark":{"type":"line","color":"red","strokeWidth":5},"encoding":{"x":{"field":"yr","type":"quantitative","scale":{"domain":[1958.2,2024.7],"nice":false,"zero":false},"axis":{"values":[1960,1975,1990,2005,2020],"format":"d","title":"Year"}},"y":{"field":"m","type":"quantitative","scale":{"domain":[121,240],"nice":false,"zero":false},"axis":{"values":[121,152,182,213],"labels":false,"title":null}}}},
 {"data":{"values":[{"lab":"(h) Yangtze"}]},"mark":{"type":"text","align":"left","baseline":"alphabetic","fontSize":25,"font":"DejaVu Sans","color":"black"},"encoding":{"x":{"datum":1978.1},"y":{"datum":227.5},"text":{"field":"lab"}}}
]},
{"width":300,"height":270,"layer":[
 {"transform":[{"filter":"datum.b=='i'"}],"mark":{"type":"circle","color":"black","size":60,"opacity":1},"encoding":{"x":{"field":"yr","type":"quantitative","scale":{"domain":[1958.2,2024.7],"nice":false,"zero":false},"axis":{"values":[1960,1975,1990,2005,2020],"format":"d","title":"Year"}},"y":{"field":"t","type":"quantitative","scale":{"domain":[121,240],"nice":false,"zero":false},"axis":{"values":[121,152,182,213],"labels":false,"title":null}}}},
 {"transform":[{"filter":"datum.b=='i' && isValid(datum.m)"}],"mark":{"type":"line","color":"red","strokeWidth":5},"encoding":{"x":{"field":"yr","type":"quantitative","scale":{"domain":[1958.2,2024.7],"nice":false,"zero":false},"axis":{"values":[1960,1975,1990,2005,2020],"format":"d","title":"Year"}},"y":{"field":"m","type":"quantitative","scale":{"domain":[121,240],"nice":false,"zero":false},"axis":{"values":[121,152,182,213],"labels":false,"title":null}}}},
 {"data":{"values":[{"lab":"(i) Southeast"}]},"mark":{"type":"text","align":"left","baseline":"alphabetic","fontSize":25,"font":"DejaVu Sans","color":"black"},"encoding":{"x":{"datum":1978.1},"y":{"datum":227.5},"text":{"field":"lab"}}}
]}
]
}
